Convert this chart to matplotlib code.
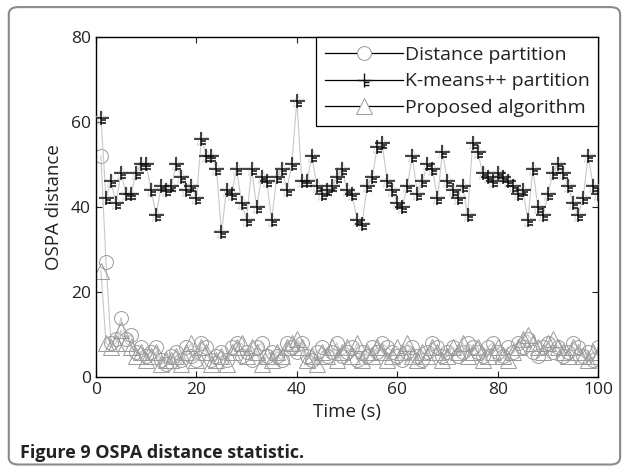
import matplotlib
matplotlib.use("Agg")
import matplotlib.pyplot as plt
from matplotlib.lines import Line2D
from matplotlib.path import Path
from matplotlib.patches import FancyBboxPatch

plt.rcParams['font.family'] = ['Open Sans', 'DejaVu Sans']

time = list(range(1, 101))
distance_partition = [52, 27, 8, 9, 14, 9, 10, 6, 7, 5, 6, 7, 4, 3, 5, 6, 4, 7, 5, 4,
                      8, 7, 4, 5, 6, 4, 7, 8, 5, 6, 4, 7, 8, 5, 6, 5, 4, 8, 7, 6,
                      8, 5, 4, 6, 7, 5, 6, 8, 5, 6, 7, 4, 6, 5, 7, 6, 8, 7, 6, 5,
                      4, 6, 7, 5, 4, 6, 8, 7, 5, 6, 7, 5, 6, 8, 7, 6, 5, 7, 8, 6,
                      5, 7, 6, 8, 7, 9, 6, 5, 7, 8, 6, 7, 5, 6, 8, 7, 5, 6, 4, 7]
kmeans_partition = [61, 42, 46, 41, 48, 43, 43, 48, 50, 50, 44, 38, 45, 44, 45, 50, 47, 44, 45, 42,
                    56, 52, 52, 49, 34, 44, 43, 49, 41, 37, 49, 40, 47, 46, 37, 47, 49, 44, 50, 65,
                    46, 46, 52, 45, 43, 44, 45, 47, 49, 44, 43, 37, 36, 45, 47, 54, 55, 46, 44, 41,
                    40, 45, 52, 43, 46, 50, 49, 42, 53, 46, 44, 42, 45, 38, 55, 53, 48, 47, 46, 48,
                    47, 46, 45, 43, 44, 37, 49, 40, 38, 43, 48, 50, 48, 45, 41, 38, 42, 52, 45, 43]
proposed_algorithm = [25, 8, 7, 8, 11, 8, 7, 5, 6, 4, 5, 6, 3, 4, 4, 5, 3, 6, 8, 4,
                      7, 6, 3, 4, 5, 3, 6, 7, 8, 5, 7, 6, 3, 5, 4, 6, 5, 7, 8, 9,
                      7, 4, 5, 3, 6, 5, 7, 4, 6, 7, 5, 8, 4, 6, 5, 7, 6, 4, 5, 7,
                      6, 8, 5, 4, 6, 5, 7, 6, 4, 5, 7, 6, 8, 5, 6, 7, 4, 5, 6, 7,
                      5, 4, 6, 7, 9, 10, 8, 7, 6, 8, 9, 7, 6, 5, 7, 6, 5, 4, 6, 5]
labels = ["Distance partition", "K-means++ partition", "Proposed algorithm"]
xticks = [0, 20, 40, 60, 80, 100]
yticks = [0, 20, 40, 60, 80]

# custom "+ with dashes" marker
verts = [(-1, 0), (1.2, 0), (0, 1), (0, -1), (0.05, -0.35), (0.75, -0.35), (0.05, -0.75), (0.65, -0.75)]
codes = [Path.MOVETO, Path.LINETO, Path.MOVETO, Path.LINETO, Path.MOVETO, Path.LINETO, Path.MOVETO, Path.LINETO]
kmarker = Path(verts, codes)

fig = plt.figure(figsize=(6.27, 4.74), dpi=100)
frame = FancyBboxPatch((0.014, 0.02), 0.975, 0.965, boxstyle="round,pad=0,rounding_size=0.015",
                       transform=fig.transFigure, fill=False, edgecolor='#8a8a8a', linewidth=1.5)
fig.patches.append(frame)

ax = fig.add_axes([0.153, 0.2046, 0.801, 0.7174])
gray_line = '#c8c8c8'
mgray = '#9a9a9a'
ax.plot(time, distance_partition, color=gray_line, lw=0.8, marker='o', ms=10,
        mfc='none', mec=mgray, mew=0.7, zorder=2)
ax.plot(time, proposed_algorithm, color=gray_line, lw=0.8, marker='^', ms=11,
        mfc='none', mec=mgray, mew=0.7, zorder=2)
ax.plot(time, kmeans_partition, color=gray_line, lw=0.8, marker='*', ms=11,
        mfc='none', mec='#cccccc', mew=0.5, ls='-', zorder=3)
ax.plot(time, kmeans_partition, ls='none', marker=kmarker, ms=12,
        mfc='none', mec='#111111', mew=1.1, zorder=4)

ax.set_xlim(0, 100)
ax.set_ylim(0, 80)
ax.set_xticks(xticks)
ax.set_yticks(yticks)
ax.tick_params(direction='in', top=True, right=True, length=4, labelsize=12.5, colors='#222222')
for s in ax.spines.values():
    s.set_linewidth(1.0)
ax.set_xlabel("Time (s)", fontsize=13.5, color='#222222', labelpad=4)
ax.set_ylabel("OSPA distance", fontsize=13.5, color='#222222', labelpad=6)

handles = [
    Line2D([], [], color='black', lw=0.9, marker='o', ms=10, mfc='white', mec=mgray, mew=0.7),
    Line2D([], [], color='black', lw=0.9, marker=kmarker, ms=12, mfc='none', mec='#111111', mew=1.0),
    Line2D([], [], color='black', lw=0.9, marker='^', ms=11, mfc='white', mec=mgray, mew=0.7),
]
leg = ax.legend(handles, labels, loc='upper right', fontsize=14, frameon=True, fancybox=False,
                edgecolor='black', borderaxespad=0, handlelength=4.0, handletextpad=0.1,
                borderpad=0.45, labelspacing=0.45, framealpha=1)
leg.get_frame().set_linewidth(0.9)
for t in leg.get_texts():
    t.set_color('#222222')

fig.text(0.032, 0.033, "Figure 9 OSPA distance statistic.", fontsize=13, fontweight='bold', color='#222222')

fig.savefig("out.png", dpi=100)
